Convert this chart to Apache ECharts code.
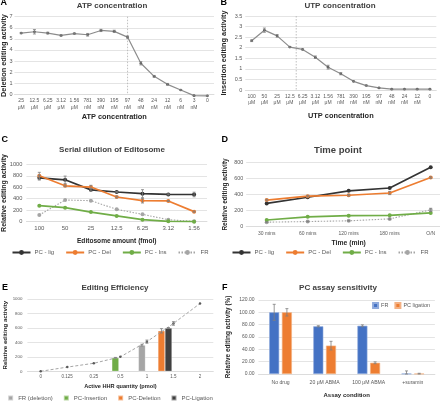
<!DOCTYPE html>
<html>
<head>
<meta charset="UTF-8">
<title>Editing assay panels</title>
<script src="https://cdn.jsdelivr.net/npm/echarts@6/dist/echarts.min.js"></script>
<style>
  body { margin: 0; background: #fff; }
  .panel { position: absolute; }
</style>
</head>
<body>
<div id="panelA" class="panel" style="left:0;top:0;width:220px;height:135px"></div>
<div id="panelB" class="panel" style="left:220px;top:0;width:220px;height:135px"></div>
<div id="panelC" class="panel" style="left:0;top:135px;width:220px;height:140px"></div>
<div id="panelD" class="panel" style="left:220px;top:135px;width:220px;height:140px"></div>
<div id="panelE" class="panel" style="left:0;top:275px;width:220px;height:127px"></div>
<div id="panelF" class="panel" style="left:220px;top:275px;width:220px;height:127px"></div>
<script>
const FONT = 'Liberation Sans';

// A - ATP titration
const atpLabels = ['25\nμM', '12.5\nμM', '6.25\nμM', '3.12\nμM', '1.56\nμM', '781\nnM', '390\nnM', '195\nnM', '97\nnM', '48\nnM', '24\nnM', '12\nnM', '6\nnM', '3\nnM', '0'];
const atpValues = [5.52, 5.64, 5.52, 5.31, 5.48, 5.37, 5.76, 5.68, 5.16, 2.8, 1.62, 0.9, 0.39, -0.12, -0.14];
const atpErrors = [0.05, 0.2, 0.08, 0.06, 0.04, 0.12, 0.1, 0.1, 0.1, 0.15, 0.08, 0.08, 0.04, 0.03, 0.03];

// B - UTP titration
const utpLabels = ['100\nμM', '50\nμM', '25\nμM', '12.5\nμM', '6.25\nμM', '3.12\nμM', '1.56\nμM', '781\nnM', '390\nnM', '195\nnM', '97\nnM', '48\nnM', '24\nnM', '12\nnM', '0'];
const utpValues = [2.33, 2.83, 2.56, 2.03, 1.92, 1.55, 1.08, 0.77, 0.41, 0.21, 0.1, 0.04, 0.04, 0.04, 0.04];
const utpErrors = [0.04, 0.1, 0.06, 0.02, 0.02, 0.06, 0.09, 0.05, 0.02, 0.02, 0.01, 0.01, 0.01, 0.01, 0.01];

// C - serial dilution
const dilutionLabels = ['100', '50', '25', '12.5', '6.25', '3.12', '1.56'];
const dilLig = [765, 730, 555, 517, 488, 476, 474];
const dilLigErr = [40, 65, 20, 10, 70, 10, 40];
const dilDel = [800, 625, 604, 430, 366, 362, 175];
const dilDelErr = [60, 15, 30, 15, 40, 10, 10];
const dilIns = [280, 244, 168, 100, 35, 6, 0];
const dilFR = [116, 378, 366, 215, 128, 35, 6];

// D - time course
const timeLabels = ['30 mins', '60 mins', '120 mins', '180 mins', 'O/N'];
const timeLig = [288, 365, 445, 480, 737];
const timeDel = [330, 378, 390, 418, 610];
const timeDelErr = [10, 10, 10, 20, 10];
const timeIns = [82, 122, 136, 140, 170];
const timeFR = [55, 63, 72, 96, 208];
const timeFRErr = [5, 5, 5, 8, 20];

// E - editing efficiency
const hhrLabels = ['0', '0.125', '0.25', '0.5', '1', '1.5', '2'];
const curveValues = [0, 58, 111, 200, 410, 662, 938];
const curveErrors = [0, 0, 0, 0, 22, 25, 0];
const frDeletionBars = [null, null, null, null, 362, null, null];
const frDeletionErr = [0, 0, 0, 0, 12, 0, 0];
const pcInsertionBars = [null, null, null, 187, null, null, null];
const pcInsertionErr = [0, 0, 0, 5, 0, 0, 0];
const pcDeletionBars = [null, null, null, null, null, 560, null];
const pcDeletionErr = [0, 0, 0, 0, 0, 30, 0];
const pcLigationBars = [null, null, null, null, null, 598, null];
const pcLigationErr = [0, 0, 0, 0, 0, 8, 0];

// F - assay sensitivity
const assayLabels = ['No drug', '20 μM ABMA', '100 μM ABMA', '+suramin'];
const assayFR = [100, 77.3, 78.2, 0.5];
const assayFRErr = [13, 1, 1.5, 4.5];
const assayPC = [100, 46, 18.2, 0.4];
const assayPCErr = [6, 7, 1.5, 0.8];

const GRID_LINE = '#d9d9d9';
const TICK = '#595959';

function errorBars(values, errors, opts) {
  opts = opts || {};
  const data = [];
  values.forEach((v, i) => { if (v != null && errors[i] > 0) data.push([i, v, errors[i]]); });
  return {
    type: 'custom',
    xAxisIndex: opts.xAxisIndex || 0,
    yAxisIndex: opts.yAxisIndex || 0,
    silent: true,
    z: 5,
    data: data,
    renderItem(params, api) {
      const i = api.value(0), v = api.value(1), e = api.value(2);
      const hi = api.coord([i, v + e]);
      const lo = api.coord([i, Math.max(opts.floor != null ? opts.floor : -1e9, v - e)]);
      const x = hi[0] + (opts.shift || 0);
      const c = opts.cap || 1.5;
      const style = { stroke: opts.color || '#7f7f7f', lineWidth: 0.8 };
      return {
        type: 'group',
        children: [
          { type: 'line', shape: { x1: x, y1: hi[1], x2: x, y2: lo[1] }, style },
          { type: 'line', shape: { x1: x - c, y1: hi[1], x2: x + c, y2: hi[1] }, style },
          { type: 'line', shape: { x1: x - c, y1: lo[1], x2: x + c, y2: lo[1] }, style }
        ]
      };
    }
  };
}

// vertical dotted divider, at a category centre or at its left edge
function divider(index, atEdge) {
  return {
    type: 'custom',
    silent: true,
    z: 1,
    data: [[index, 0]],
    renderItem(params, api) {
      let x = api.coord([api.value(0), 0])[0];
      if (atEdge) x -= api.size([1, 0])[0] / 2;
      const cs = params.coordSys;
      return { type: 'line', shape: { x1: x, y1: cs.y, x2: x, y2: cs.y + cs.height }, style: { stroke: '#b0b0b0', lineWidth: 0.8, lineDash: [1.5, 1.5] } };
    }
  };
}

function titles(letter, lx, ly, text, cx, ty, size) {
  return [
    { text: letter, left: lx, top: ly, padding: 0, textStyle: { fontFamily: FONT, fontSize: 9, fontWeight: 'bold', color: '#000' } },
    { text: text, left: cx, top: ty, padding: 0, textAlign: 'center', textStyle: { fontFamily: FONT, fontSize: size, fontWeight: 'bold', color: '#404040' } }
  ];
}

function grid(left, top, width, height) {
  return { left: left, top: top, width: width, height: height, containLabel: false, outerBoundsMode: 'none' };
}

function catAxis(labels, o) {
  return {
    type: 'category', data: labels, boundaryGap: true,
    axisLine: { lineStyle: { color: GRID_LINE, width: 0.8 } },
    axisTick: { show: false },
    axisLabel: { interval: 0, fontFamily: FONT, fontSize: o.fontSize, color: TICK, margin: o.margin, lineHeight: o.lineHeight, hideOverlap: false },
    name: o.name, nameLocation: 'middle', nameGap: o.nameGap, nameMoveOverlap: false,
    nameTextStyle: { fontFamily: FONT, fontSize: o.nameSize, fontWeight: 'bold', color: '#262626' }
  };
}

// y axis; the name is centred nameGap px left of the plot edge
function valAxis(o) {
  return {
    type: 'value', min: o.min, max: o.max, interval: o.interval,
    axisLine: { show: false }, axisTick: { show: false },
    axisLabel: { fontFamily: FONT, fontSize: o.fontSize, color: TICK, margin: o.margin, formatter: o.formatter || (v => String(v)) },
    splitLine: { lineStyle: { color: GRID_LINE, width: 0.7 } },
    name: o.name, nameLocation: 'middle', nameGap: o.nameGap, nameMoveOverlap: false,
    nameTextStyle: { fontFamily: FONT, fontSize: o.nameSize, fontWeight: 'bold', color: '#262626', align: 'center', verticalAlign: 'middle' }
  };
}

function grayLine(values) {
  return {
    type: 'line', data: values, clip: false, symbol: 'circle', symbolSize: 2.6,
    itemStyle: { color: '#595959' }, lineStyle: { color: '#8c8c8c', width: 1.2 }, z: 3
  };
}

function colorLine(name, values, color, dotted) {
  return {
    type: 'line', name: name, data: values, symbol: 'circle', symbolSize: 4,
    itemStyle: { color: color },
    lineStyle: { color: color, width: dotted ? 1.1 : 1.7, type: dotted ? [1.5, 1.5] : 'solid' },
    z: dotted ? 2 : 3
  };
}

function lineLegend(top, names) {
  return {
    top: top, left: 'center', padding: 0, itemWidth: 18, itemHeight: 6, itemGap: 11,
    textStyle: { fontFamily: FONT, fontSize: 6, color: TICK, padding: [0, 0, 0, -1] },
    data: names
  };
}

// ---------- A ----------
echarts.init(document.getElementById('panelA')).setOption({
  animation: false,
  title: titles('A', 0.5, -2, 'ATP concentration', 112, 2, 8),
  grid: grid(14.5, 16.7, 199.5, 77.6),
  xAxis: catAxis(atpLabels, { fontSize: 5, margin: 3, lineHeight: 6.8, name: 'ATP concentration', nameGap: 19, nameSize: 7.4 }),
  yAxis: valAxis({ min: 0, max: 7, interval: 1, fontSize: 5.5, margin: 2, name: 'Deletion editing activity', nameGap: 10.5, nameSize: 7.4 }),
  series: [grayLine(atpValues), errorBars(atpValues, atpErrors), divider(8, false)]
});

// ---------- B ----------
echarts.init(document.getElementById('panelB')).setOption({
  animation: false,
  title: titles('B', 0.5, -2, 'UTP concentration', 120, 2, 8),
  grid: grid(25.3, 16, 191, 74),
  xAxis: catAxis(utpLabels, { fontSize: 5, margin: 3, lineHeight: 6.3, name: 'UTP concentration', nameGap: 22, nameSize: 7.4 }),
  yAxis: valAxis({ min: 0, max: 3.5, interval: 0.5, fontSize: 5.5, margin: 3, name: 'Insertion editing activity', nameGap: 21.3, nameSize: 7.4 }),
  series: [grayLine(utpValues), errorBars(utpValues, utpErrors), divider(4, true)]
});

// ---------- C ----------
echarts.init(document.getElementById('panelC')).setOption({
  animation: false,
  title: titles('C', 1.5, 0.5, 'Serial dilution of Editosome', 112, 10.5, 8),
  grid: grid(26.4, 29.3, 180.6, 57.4),
  legend: lineLegend(114.5, ['PC - lig', 'PC - Del', 'PC - Ins', 'FR']),
  xAxis: catAxis(dilutionLabels, { fontSize: 6, margin: 4, name: 'Editosome amount (fmol)', nameGap: 16, nameSize: 6.6 }),
  yAxis: valAxis({ min: 0, max: 1000, interval: 200, fontSize: 5.7, margin: 4, name: 'Relative editing activity', nameGap: 22.4, nameSize: 7 }),
  series: [
    colorLine('PC - lig', dilLig, '#333333'),
    colorLine('PC - Del', dilDel, '#ed7d31'),
    colorLine('PC - Ins', dilIns, '#70ad47'),
    colorLine('FR', dilFR, '#a5a5a5', true),
    errorBars(dilLig, dilLigErr),
    errorBars(dilDel, dilDelErr)
  ]
});

// ---------- D ----------
echarts.init(document.getElementById('panelD')).setOption({
  animation: false,
  title: titles('D', 1.5, 0.5, 'Time point', 118, 10, 9.5),
  grid: grid(26.2, 27.3, 205, 64.3),
  legend: lineLegend(114.5, ['PC - lig', 'PC - Del', 'PC - Ins', 'FR']),
  xAxis: catAxis(timeLabels, { fontSize: 5, margin: 5, name: 'Time (min)', nameGap: 13, nameSize: 6.8 }),
  yAxis: valAxis({ min: 0, max: 800, interval: 200, fontSize: 5.4, margin: 3, name: 'Relative editing activity', nameGap: 21.2, nameSize: 6.5 }),
  series: [
    colorLine('PC - lig', timeLig, '#333333'),
    colorLine('PC - Del', timeDel, '#ed7d31'),
    colorLine('PC - Ins', timeIns, '#70ad47'),
    colorLine('FR', timeFR, '#a5a5a5', true),
    errorBars(timeDel, timeDelErr),
    errorBars(timeFR, timeFRErr)
  ]
});

// ---------- E ----------
const E_BAR_W = 7;
function hhrBar(name, values, color, stack) {
  return { type: 'bar', name: name, data: values, stack: stack, xAxisIndex: 1, yAxisIndex: 1, barWidth: E_BAR_W, barGap: '0%', itemStyle: { color: color, borderColor: 'rgba(255,255,255,0.5)', borderWidth: 0.5 }, z: 2 };
}
echarts.init(document.getElementById('panelE')).setOption({
  animation: false,
  title: titles('E', 2, 8.5, 'Editing Efficiency', 115, 8.5, 8),
  grid: [grid(27.4, 24, 185.9, 72.3), grid(18.9, 24, 185.9, 72.3)],
  legend: {
    top: 119.5, left: 'center', padding: 0, icon: 'rect', itemWidth: 5, itemHeight: 5, itemGap: 10,
    textStyle: { fontFamily: FONT, fontSize: 6, color: TICK },
    data: ['FR (deletion)', 'PC-Insertion', 'PC-Deletion', 'PC-Ligation']
  },
  xAxis: [
    catAxis(hhrLabels, { fontSize: 4.5, margin: 3, name: 'Active HHR quantity (pmol)', nameGap: 12, nameSize: 5.6 }),
    { type: 'category', gridIndex: 1, data: hhrLabels, show: false }
  ],
  yAxis: [
    valAxis({ min: 0, max: 1000, interval: 200, fontSize: 4.4, margin: 5, name: 'Relative editing activity', nameGap: 22.4, nameSize: 6.2 }),
    { type: 'value', gridIndex: 1, min: 0, max: 1000, show: false }
  ],
  series: [
    hhrBar('PC-Deletion', pcDeletionBars, '#ed7d31', 'left'),
    hhrBar('FR (deletion)', frDeletionBars, '#a5a5a5', 'main'),
    hhrBar('PC-Insertion', pcInsertionBars, '#70ad47', 'main'),
    hhrBar('PC-Ligation', pcLigationBars, '#404040', 'main'),
    {
      type: 'line', name: 'curve', data: curveValues, symbol: 'circle', symbolSize: 2.5,
      itemStyle: { color: '#595959' }, lineStyle: { color: '#a5a5a5', width: 1, type: [3, 2] }, z: 3
    },
    errorBars(curveValues, curveErrors),
    errorBars(pcDeletionBars, pcDeletionErr, { xAxisIndex: 1, yAxisIndex: 1, shift: -E_BAR_W / 2 }),
    errorBars(frDeletionBars, frDeletionErr, { xAxisIndex: 1, yAxisIndex: 1, shift: E_BAR_W / 2 }),
    errorBars(pcInsertionBars, pcInsertionErr, { xAxisIndex: 1, yAxisIndex: 1, shift: E_BAR_W / 2 }),
    errorBars(pcLigationBars, pcLigationErr, { xAxisIndex: 1, yAxisIndex: 1, shift: E_BAR_W / 2 })
  ]
});

// ---------- F ----------
const F_BAR_W = 10, F_GAP = 2.7;
echarts.init(document.getElementById('panelF')).setOption({
  animation: false,
  title: titles('F', 2, 8.5, 'PC assay sensitivity', 118, 9, 8.1),
  grid: grid(38.5, 25, 176.4, 74),
  legend: {
    top: 27, right: 10, padding: 0, icon: 'rect', itemWidth: 5, itemHeight: 5, itemGap: 6,
    textStyle: { fontFamily: FONT, fontSize: 5.5, color: TICK, padding: [0, 0, 0, -2] },
    data: ['FR', 'PC ligation']
  },
  xAxis: catAxis(assayLabels, { fontSize: 5.1, margin: 6, name: 'Assay condition', nameGap: 18, nameSize: 6 }),
  yAxis: valAxis({ min: 0, max: 120, interval: 20, fontSize: 5, margin: 4, name: 'Relative editing activity (%)', nameGap: 30.2, nameSize: 6.4, formatter: v => v.toFixed(2) }),
  series: [
    { type: 'bar', name: 'FR', data: assayFR, barWidth: F_BAR_W, barGap: (F_GAP / F_BAR_W * 100) + '%', itemStyle: { color: '#4472c4', borderColor: '#8faadc', borderWidth: 0.6 } },
    { type: 'bar', name: 'PC ligation', data: assayPC, barWidth: F_BAR_W, itemStyle: { color: '#ed7d31', borderColor: '#f4b183', borderWidth: 0.6 } },
    errorBars(assayFR, assayFRErr, { shift: -(F_BAR_W + F_GAP) / 2, floor: 0 }),
    errorBars(assayPC, assayPCErr, { shift: (F_BAR_W + F_GAP) / 2, floor: 0 })
  ]
});
</script>
</body>
</html>
